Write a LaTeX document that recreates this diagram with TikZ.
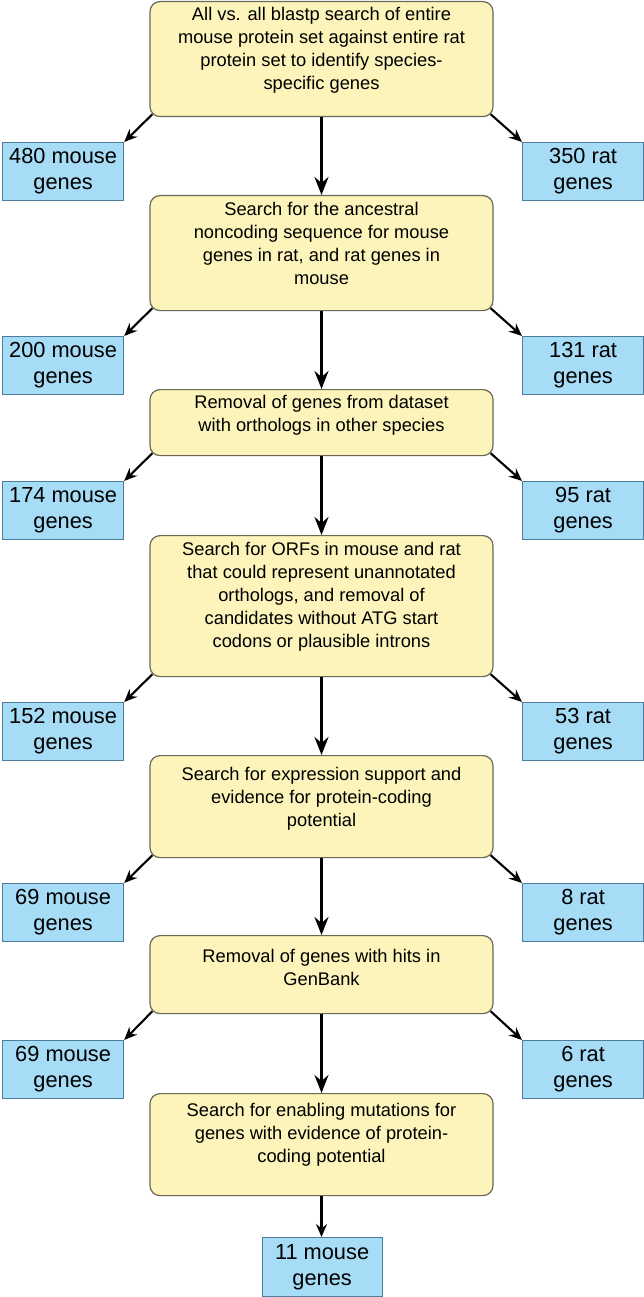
\documentclass[tikz,border=0pt]{standalone}
\usepackage{fontspec}
\setmainfont{Liberation Sans}
\usetikzlibrary{arrows.meta,calc}
\definecolor{yfill}{HTML}{FCF4BA}
\definecolor{ydraw}{HTML}{6B6856}
\definecolor{bfill}{HTML}{A6DCF5}
\definecolor{bdraw}{HTML}{4D7D9C}
\begin{document}
\begin{tikzpicture}[x=1pt,y=-1pt,
 ybox/.style={draw=ydraw, line width=1.2pt, fill=yfill, rounded corners=10pt, minimum width=343pt, inner sep=0pt, anchor=north},
 ytext/.style={font=\fontsize{18.3}{23}\selectfont, align=center, anchor=north, inner sep=0pt},
 bbox/.style={draw=bdraw, line width=1.2pt, fill=bfill, minimum width=121pt, minimum height=58pt, inner sep=0pt, align=center, font=\fontsize{21.8}{26}\selectfont, anchor=north west},
 mainarrow/.style={line width=2.8pt, -{Stealth[length=18pt,width=14pt,inset=6pt]}},
 sidearrow/.style={line width=2.1pt, -{Stealth[length=13pt,width=11pt,inset=4.5pt]}}]
\useasboundingbox (0,0) rectangle (644,1297);

% yellow process boxes
\node[ybox, minimum height=115pt] (b1) at (321.5,1) {};
\node[ybox, minimum height=115pt] (b2) at (321.5,195) {};
\node[ybox, minimum height=66pt]  (b3) at (321.5,389) {};
\node[ybox, minimum height=141pt] (b4) at (321.5,535) {};
\node[ybox, minimum height=102pt] (b5) at (321.5,755) {};
\node[ybox, minimum height=78pt]  (b6) at (321.5,935) {};
\node[ybox, minimum height=102pt] (b7) at (321.5,1093) {};

\node[ytext] (t1) at (321.5,7) {All vs. all blastp search of entire\\mouse protein set against entire rat\\protein set to identify species-\\specific genes};
\node[ytext] (t2) at (321.5,202) {Search for the ancestral\\noncoding sequence for mouse\\genes in rat, and rat genes in\\mouse};
\node[ytext] (t3) at (321.5,395) {Removal of genes from dataset\\with orthologs in other species};
\node[ytext] (t4) at (321.5,542) {Search for ORFs in mouse and rat\\that could represent unannotated\\orthologs, and removal of\\candidates without ATG start\\codons or plausible introns};
\node[ytext] (t5) at (321.5,767) {Search for expression support and\\evidence for protein-coding\\potential};
\node[ytext] (t6) at (321.5,949) {Removal of genes with hits in\\GenBank};
\node[ytext] (t7) at (321.5,1103) {Search for enabling mutations for\\genes with evidence of protein-\\coding potential};

% blue result boxes
\node[bbox] (l1) at (2,142) {480 mouse\\genes};
\node[bbox] (r1) at (522,142) {350 rat\\genes};
\node[bbox] (l2) at (2,336) {200 mouse\\genes};
\node[bbox] (r2) at (522,336) {131 rat\\genes};
\node[bbox] (l3) at (2,481) {174 mouse\\genes};
\node[bbox] (r3) at (522,481) {95 rat\\genes};
\node[bbox] (l4) at (2,702) {152 mouse\\genes};
\node[bbox] (r4) at (522,702) {53 rat\\genes};
\node[bbox] (l5) at (2,883) {69 mouse\\genes};
\node[bbox] (r5) at (522,883) {8 rat\\genes};
\node[bbox] (l6) at (2,1040) {69 mouse\\genes};
\node[bbox] (r6) at (522,1040) {6 rat\\genes};
\node[bbox, minimum width=120pt, minimum height=59pt] (fin) at (261.5,1237) {11 mouse\\genes};

% main arrows
\draw[mainarrow] (b1.south) -- (b2.north);
\draw[mainarrow] (b2.south) -- (b3.north);
\draw[mainarrow] (b3.south) -- (b4.north);
\draw[mainarrow] (b4.south) -- (b5.north);
\draw[mainarrow] (b5.south) -- (b6.north);
\draw[mainarrow] (b6.south) -- (b7.north);
\draw[sidearrow] (b7.south) -- (b7.south |- fin.north);

% side arrows
\foreach \i in {1,...,6}{
  \draw[sidearrow] ([shift={(3,-3)}]b\i.south west) -- (l\i.north east);
  \draw[sidearrow] ([shift={(-3,-3)}]b\i.south east) -- (r\i.north west);
}
\end{tikzpicture}
\end{document}
